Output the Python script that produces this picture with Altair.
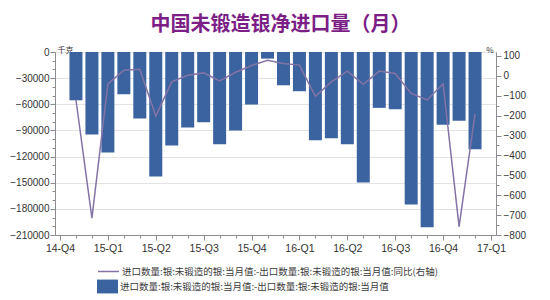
import json
import altair as alt
import pandas as pd

# ---- data ----
months = ["2014-11", "2014-12", "2015-01", "2015-02", "2015-03", "2015-04",
          "2015-05", "2015-06", "2015-07", "2015-08", "2015-09", "2015-10",
          "2015-11", "2015-12", "2016-01", "2016-02", "2016-03", "2016-04",
          "2016-05", "2016-06", "2016-07", "2016-08", "2016-09", "2016-10",
          "2016-11", "2016-12"]
net_import = [-55400, -94700, -115300, -48500, -76400, -142800, -107300,
              -86700, -80600, -105800, -90100, -60300, -7600, -38200, -45000,
              -101200, -98900, -105800, -149700, -64100, -65700, -174900,
              -201200, -83600, -79000, -111500]
yoy = [-120, -715, -40, 28, 33, -202, -30, 3, 15, -25, 18, 52, 78, 62, 54,
       -103, -30, 24, -42, 24, 12, -88, -121, -40, -758, -191]
quarter_labels = ["14-Q4", "15-Q1", "15-Q2", "15-Q3", "15-Q4", "16-Q1",
                  "16-Q2", "16-Q3", "16-Q4", "17-Q1"]

bar_name = "进口数量:银:未锻造的银:当月值:-出口数量:银:未锻造的银:当月值"
line_name = bar_name + ":同比(右轴)"
title_text = "中国未锻造银净进口量（月）"

# month position counted from the 14-Q4 tick (2014-10)
idx = [(int(m[:4]) - 2014) * 12 + int(m[5:]) - 10 for m in months]

df = pd.DataFrame({"month": months, "idx": idx, "net": net_import,
                   "yoy": yoy, "s_bar": bar_name, "s_line": line_name})

BAR = "#3B63A0"
LINE = "#8473A6"
CJK = "Noto Sans CJK SC"
AX = "#8c8c8c"

x_enc = alt.X(
    "idx:Q",
    scale=alt.Scale(domain=[0, 27], nice=False, zero=False),
    axis=alt.Axis(
        values=list(range(0, 28)),
        labelExpr="datum.value % 3 === 0 ? " + json.dumps(quarter_labels)
                  + "[datum.value / 3] : ''",
        tickSize={"condition": {"test": "datum.value % 3 === 0", "value": 5}, "value": 3},
        grid=False, title=None, labelOverlap=False, labelFlush=False,
        labelPadding=3, labelFontSize=10.5,
    ),
)

bars = alt.Chart(df).mark_bar(size=13).encode(
    x=x_enc,
    y=alt.Y(
        "net:Q",
        scale=alt.Scale(domain=[-210000, 0], nice=False),
        axis=alt.Axis(
            values=list(range(-210000, 1, 10000)),
            labelExpr="datum.value % 30000 === 0 ? format(datum.value, 'd') : ''",
            tickSize={"condition": {"test": "datum.value % 30000 === 0", "value": 5}, "value": 3},
            grid=True, gridColor="#e3e3e3",
            gridOpacity={"condition": {"test": "datum.value % 30000 === 0", "value": 1}, "value": 0},
            labelOverlap=False, labelPadding=1,
            title="千克", titleAngle=0, titleX=2, titleY=-2, titleAlign="left",
            titleBaseline="middle", titleFont=CJK, titleFontSize=8,
            titleFontWeight="normal", titleColor="#333333",
        ),
    ),
    fill=alt.Fill(
        "s_bar:N",
        scale=alt.Scale(domain=[bar_name], range=[BAR]),
        legend=alt.Legend(
            orient="none", legendX=42, legendY=224, title=None,
            symbolType="M-1,-0.66H1V0.66H-1Z", symbolSize=441,
            symbolStrokeWidth=0, labelFont=CJK, labelFontSize=9.5,
            labelColor="#3a3a3a", labelLimit=600, padding=0, labelOffset=2,
        ),
    ),
)

line = alt.Chart(df).mark_line(strokeWidth=1.5).encode(
    x=x_enc,
    y=alt.Y(
        "yoy:Q",
        scale=alt.Scale(domain=[-800, 120], nice=False),
        axis=alt.Axis(
            orient="right",
            values=list(range(-800, 101, 50)),
            labelExpr="datum.value % 100 === 0 ? format(datum.value, 'd') : ''",
            tickSize={"condition": {"test": "datum.value % 100 === 0", "value": 5}, "value": 3},
            grid=False, labelOverlap=False, labelPadding=2,
            title="%", titleAngle=0, titleX=-3, titleY=-2, titleAlign="right",
            titleBaseline="middle", titleFont=CJK, titleFontSize=8,
            titleFontWeight="normal", titleColor="#333333",
        ),
    ),
    stroke=alt.Stroke(
        "s_line:N",
        scale=alt.Scale(domain=[line_name], range=[LINE]),
        legend=alt.Legend(
            orient="none", legendX=42, legendY=208, title=None,
            symbolType="stroke", symbolSize=441, symbolStrokeWidth=1.5,
            labelFont=CJK, labelFontSize=9.5, labelColor="#3a3a3a",
            labelLimit=600, padding=0, labelOffset=2,
        ),
    ),
)

chart = alt.layer(bars, line).resolve_scale(
    y="independent", fill="independent", stroke="independent"
).properties(
    width=441, height=183,
    autosize=alt.AutoSizeParams(type="none"),
    padding={"left": 55, "top": 52, "right": 54, "bottom": 65},
    title=alt.TitleParams(
        title_text, font=CJK, fontSize=20, fontWeight="bold",
        color="#7B1E86", anchor="middle", frame="group", dx=5, offset=11,
    ),
).configure_view(stroke="transparent").configure_axis(
    domainColor=AX, tickColor=AX, labelColor="#333333",
    labelFont="Liberation Sans", labelFontSize=10,
)

chart.save("out.html", embed_options={"renderer": "svg", "actions": False})
